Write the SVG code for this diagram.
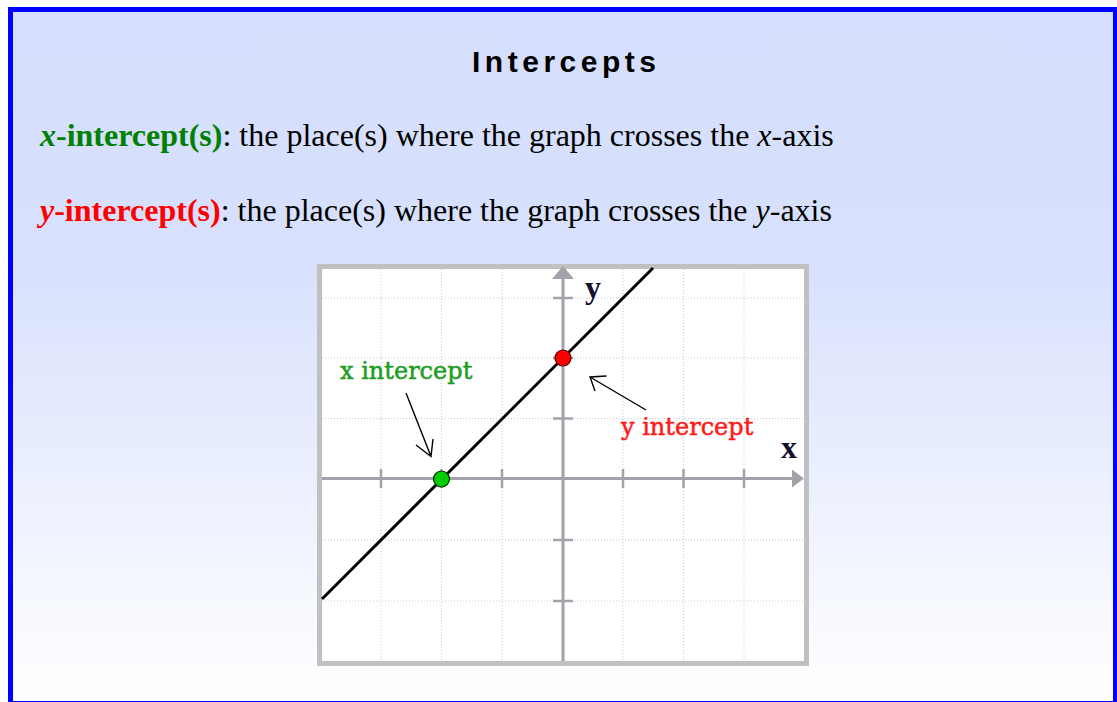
<svg xmlns="http://www.w3.org/2000/svg" width="1117" height="702" viewBox="0 0 1117 702">
<defs>
<linearGradient id="bg" x1="0" y1="0" x2="0" y2="702" gradientUnits="userSpaceOnUse">
<stop offset="0" stop-color="#d5dffd"/>
<stop offset="0.36" stop-color="#d7e0fd"/>
<stop offset="1" stop-color="#ffffff"/>
</linearGradient>
<style>
.body{font-family:"Liberation Serif","Times New Roman",serif;font-size:32px;fill:#000}
.grid{stroke:#c8c8c8;stroke-width:1;stroke-dasharray:1 2;fill:none}
.axis{stroke:#a2a2aa;stroke-width:3;fill:none}
.tick{stroke:#a2a2aa;stroke-width:2.5}
.ah{stroke:#000;stroke-width:1.4;fill:none}
.lbl{font-family:"DejaVu Serif","Liberation Serif",serif;font-size:24px;stroke-width:0.5}
.axl{font-family:"Liberation Serif","Times New Roman",serif;font-size:32px;font-weight:bold;fill:#10102e}
</style>
</defs>
<g id="frame">
<rect x="10.5" y="9.5" width="1105" height="694" fill="url(#bg)" stroke="#0000ff" stroke-width="5"/>
</g>
<g id="title">
<text x="472" y="72" font-family="Liberation Sans,Arial,sans-serif" font-size="30" font-weight="bold" textLength="184" lengthAdjust="spacing">Intercepts</text>
</g>
<g id="def-x">
<text class="body" x="40" y="146"><tspan fill="#008000" font-weight="bold"><tspan font-style="italic">x</tspan>-intercept(s)</tspan>: the place(s) where the graph crosses the <tspan font-style="italic">x</tspan>-axis</text>
</g>
<g id="def-y">
<text class="body" x="40" y="221"><tspan fill="#ff0000" font-weight="bold"><tspan font-style="italic">y</tspan>-intercept(s)</tspan>: the place(s) where the graph crosses the <tspan font-style="italic">y</tspan>-axis</text>
</g>
<g id="graph">
<rect x="319.5" y="266.5" width="487" height="397" fill="#ffffff" stroke="#c0c0c0" stroke-width="5"/>
<g class="grid">
<path d="M381 269V661M441.5 269V661M502 269V661M623 269V661M683.5 269V661M744 269V661"/>
<path d="M322 298H804M322 358H804M322 418.5H804M322 540H804M322 601H804"/>
</g>
<g id="axes">
<path class="axis" d="M322 478.5H795"/>
<path class="axis" d="M563 661V276"/>
<polygon points="804,478.5 792,469.5 792,487.5" fill="#a2a2aa"/>
<polygon points="563,266 552,279 574,279" fill="#a2a2aa"/>
<path class="tick" d="M381 469V488M441.5 469V488M502 469V488M623 469V488M683.5 469V488M744 469V488"/>
<path class="tick" d="M553 298H573M553 358H573M553 418.5H573M553 540H573M553 601H573"/>
</g>
<text class="axl" x="585" y="298">y</text>
<text class="axl" x="781" y="458">x</text>
</g>
<g id="line">
<path d="M322 599L653 268" stroke="#000" stroke-width="3" fill="none"/>
</g>
<g id="x-intercept">
<circle cx="441.5" cy="479" r="8" fill="#00cc00" stroke="#003300" stroke-width="1.2"/>
<text class="lbl" x="340" y="379" fill="#1e9e1e" stroke="#1e9e1e">x intercept</text>
</g>
<g id="y-intercept">
<circle cx="563" cy="358" r="8" fill="#ff0000" stroke="#550000" stroke-width="1.2"/>
<text class="lbl" x="621" y="435" fill="#ff1a1a" stroke="#ff1a1a">y intercept</text>
</g>
<g id="connectors">
<path class="ah" d="M406 393L431 456.5M416 445L431 456.5L433 439"/>
<path class="ah" d="M646 410L590 377M606.5 376L590 377L595 391"/>
</g>
</svg>
